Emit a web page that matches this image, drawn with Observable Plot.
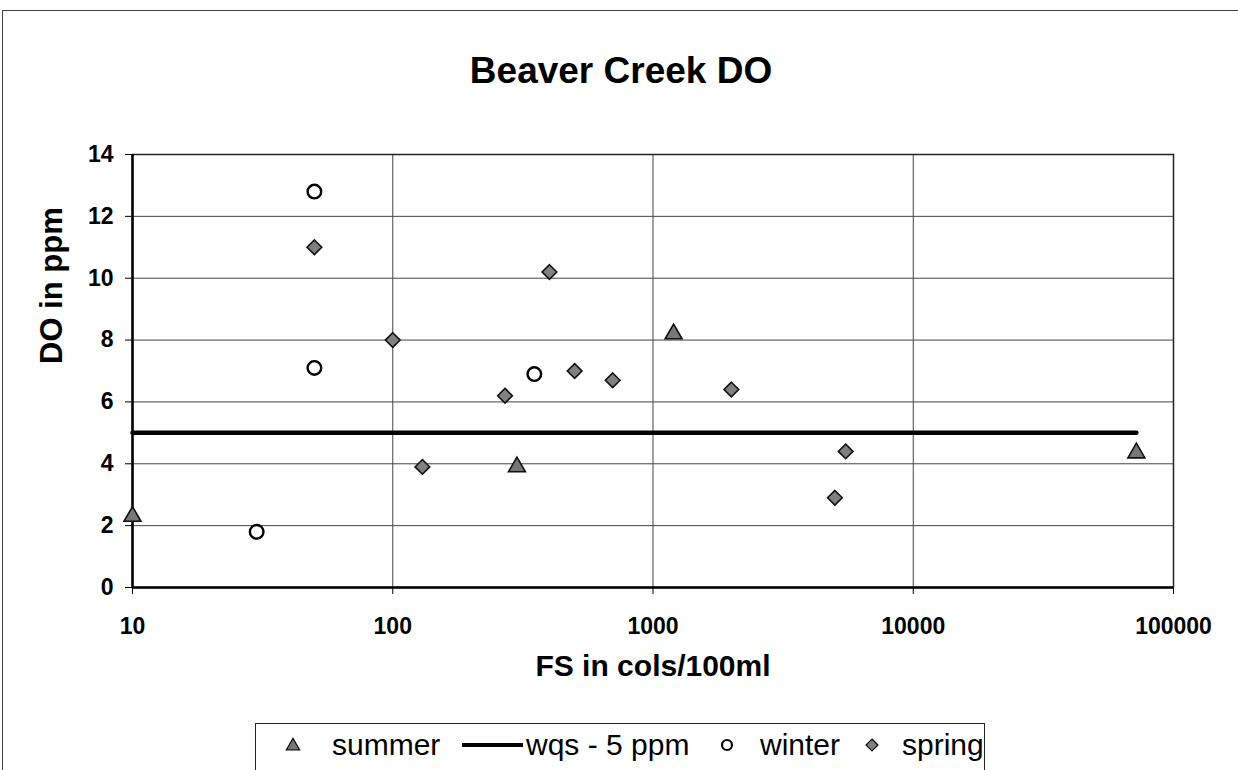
<!DOCTYPE html>
<html>
<head>
<meta charset="utf-8">
<script src="https://cdn.jsdelivr.net/npm/d3@7"></script>
<script src="https://cdn.jsdelivr.net/npm/@observablehq/plot@0.6"></script>
<style>
  html, body { margin: 0; padding: 0; background: #fff; }
  #wrap { position: relative; width: 1238px; height: 770px; overflow: hidden; font-family: "Liberation Sans", Arial, sans-serif; }
  #outer { position: absolute; left: 2px; top: 10px; width: 1240px; height: 800px; border: 1px solid #444; box-sizing: border-box; }
  #chart { position: absolute; left: 0; top: 0; }
  #legend { position: absolute; left: 255px; top: 723px; width: 730px; height: 60px; border: 1.5px solid #222; box-sizing: border-box; background: #fff; }
</style>
</head>
<body>
<div id="wrap">
  <div id="outer"></div>
  <div id="chart"></div>
  <div id="legend"></div>
</div>
<script>
// ---- data ----
const summerX = [10, 300, 1200, 72000];
const summerY = [2.3, 3.9, 8.2, 4.35];
const winterX = [50, 50, 30, 350];
const winterY = [12.8, 7.1, 1.8, 6.9];
const springX = [50, 100, 130, 270, 400, 500, 700, 2000, 5500, 5000];
const springY = [11, 8, 3.9, 6.2, 10.2, 7.0, 6.7, 6.4, 4.4, 2.9];
const wqsX = [10, 72000];
const wqsY = [5, 5];
const xTicks = [10, 100, 1000, 10000, 100000];
const yTicks = [0, 2, 4, 6, 8, 10, 12, 14];
const seriesNames = ["summer", "wqs - 5 ppm", "winter", "spring"];
const titleText = "Beaver Creek DO";
const xTitle = "FS in cols/100ml";
const yTitle = "DO in ppm";

const toRows = (xs, ys) => xs.map((x, i) => ({x, y: ys[i]}));
const summer = toRows(summerX, summerY);
const winter = toRows(winterX, winterY);
const spring = toRows(springX, springY);
const wqs = toRows(wqsX, wqsY);

const font = "'Liberation Sans', Arial, sans-serif";

const chart = Plot.plot({
  width: 1238,
  height: 770,
  marginLeft: 132,
  marginRight: 65,
  marginTop: 154,
  marginBottom: 183,
  style: {fontFamily: font, background: "transparent", color: "#000", overflow: "visible"},
  x: {type: "log", domain: [10, 100000]},
  y: {domain: [0, 14]},
  marks: [
    Plot.gridX(xTicks, {stroke: "#444", strokeOpacity: 1, strokeWidth: 1}),
    Plot.gridY(yTicks, {stroke: "#444", strokeOpacity: 1, strokeWidth: 1}),
    Plot.frame({stroke: "#222", strokeWidth: 1.5}),
    Plot.ruleX([10], {stroke: "#000", strokeWidth: 2.5}),
    Plot.ruleY([0], {stroke: "#000", strokeWidth: 2.5}),
    Plot.axisX(xTicks, {tickSize: 7, tickPadding: 23, fontSize: 23, fontWeight: "bold", tickFormat: d => String(d), label: null, stroke: "#000"}),
    Plot.axisY(yTicks, {tickSize: 7, tickPadding: 12, fontSize: 23, fontWeight: "bold", label: null, stroke: "#000"}),
    Plot.line(wqs, {x: "x", y: "y", stroke: "#000", strokeWidth: 4.5, strokeLinecap: "round"}),
    Plot.dot(spring, {x: "x", y: "y", symbol: "diamond2", r: 6.6, fill: "#808080", stroke: "#111", strokeWidth: 1.6}),
    Plot.dot(winter, {x: "x", y: "y", symbol: "circle", r: 6.8, fill: "#fff", stroke: "#000", strokeWidth: 2.4}),
    Plot.dot(summer, {x: "x", y: "y", symbol: "triangle", r: 6.3, fill: "#777", stroke: "#111", strokeWidth: 1.6}),
    Plot.text([titleText], {frameAnchor: "top", dx: -32, dy: -98, fontSize: 37, fontWeight: "bold", fill: "#000"}),
    Plot.text([xTitle], {frameAnchor: "bottom", dy: 88, fontSize: 30, fontWeight: "bold", fill: "#000"}),
    Plot.text([yTitle], {frameAnchor: "left", dx: -80, dy: -7, rotate: -90, fontSize: 31, fontWeight: "bold", fill: "#000"})
  ]
});
document.getElementById("chart").appendChild(chart);

// ---- legend ----
const lg = d3.select("#legend").append("svg")
  .attr("width", 730).attr("height", 60)
  .style("position", "absolute").style("left", "-1.5px").style("top", "-1.5px")
  .style("font-family", font);
const cy = 22;
// summer
lg.append("path").attr("transform", `translate(${293 - 255},${cy + 1})`)
  .attr("d", d3.symbol(d3.symbolTriangle, 75)()).attr("fill", "#777").attr("stroke", "#111").attr("stroke-width", 1.3);
lg.append("text").attr("x", 332 - 255).attr("y", cy + 10).attr("font-size", 30).text(seriesNames[0]);
// wqs line
lg.append("line").attr("x1", 462 - 255).attr("x2", 523 - 255).attr("y1", cy).attr("y2", cy)
  .attr("stroke", "#000").attr("stroke-width", 4);
lg.append("text").attr("x", 526 - 255).attr("y", cy + 10).attr("font-size", 30).text(seriesNames[1]);
// winter
lg.append("circle").attr("cx", 727 - 255).attr("cy", cy).attr("r", 5)
  .attr("fill", "#fff").attr("stroke", "#000").attr("stroke-width", 2.2);
lg.append("text").attr("x", 760 - 255).attr("y", cy + 10).attr("font-size", 30).text(seriesNames[2]);
// spring
lg.append("path").attr("transform", `translate(${872 - 255},${cy})`)
  .attr("d", d3.symbol(d3.symbolDiamond2, 90)()).attr("fill", "#808080").attr("stroke", "#111").attr("stroke-width", 1.3);
lg.append("text").attr("x", 902 - 255).attr("y", cy + 10).attr("font-size", 30).text(seriesNames[3]);
</script>
</body>
</html>
